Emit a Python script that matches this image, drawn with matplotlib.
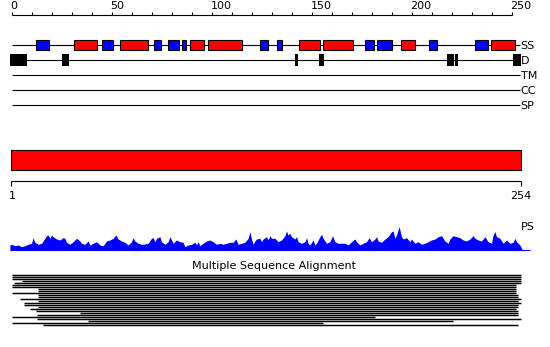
import matplotlib
matplotlib.use("Agg")
import matplotlib.pyplot as plt
from matplotlib.patches import Rectangle

seq_len = 254

# secondary structure: (start, end, kind)  H = helix (red), E = strand (blue)
ss_start = [12.2, 31, 45, 54, 71, 78.3, 85, 89.3, 98.3, 124, 132.5, 143.8, 155.8,
            176.8, 182.7, 194.8, 208.8, 231.8, 239.7]
ss_end = [18.5, 42.5, 50.5, 68.3, 74.5, 83.5, 87.3, 96.3, 115.3, 128, 135, 154, 170.8,
          181, 190, 201.8, 212.8, 238, 251.8]
ss_kind = ["E", "H", "E", "H", "E", "E", "E", "H", "H", "E", "E", "H", "H",
           "E", "E", "H", "E", "E", "H"]

# disorder segments
dis_start = [-0.7, 25.2, 141.7, 153.7, 217.5, 221.5, 250.7]
dis_end = [7.7, 28.7, 143, 156, 221, 223.2, 254.5]

# profile (PS) heights along the sequence
ps_pos = [-0.8, 0, 1.7, 3.3, 5, 6.7, 8.3, 10, 10.8, 11.7, 13.3, 15, 16.7, 17.5, 18.3, 19.2,
          20, 20.8, 22.5, 24.2, 25.8, 26.7, 27.5, 29.2, 30.8, 32.5, 34.2, 35, 36.7, 38.3,
          39.2, 40.8, 42.5, 44.2, 45.8, 47.5, 49.2, 50.8, 52.2, 53.3, 55, 56.7, 58.3, 60,
          60.8, 61.7, 63.3, 65, 66.7, 68.3, 70, 70.8, 71.7, 72.5, 74.2, 75, 76.7, 78.3,
          79.2, 80, 80.8, 82.5, 84.2, 85.8, 86.7, 88.3, 90, 91.7, 92.5, 93.3, 94.2, 95.8,
          97.5, 99.2, 100.8, 102.5, 104.2, 105.8, 107.5, 109.2, 110.8, 112.2, 113.3, 115,
          116.7, 118.3, 119.2, 120, 120.8, 121.7, 122.5, 124.2, 125, 125.8, 127.5, 128.3,
          129.2, 130, 131.7, 133.3, 135, 136.7, 137.5, 138.3, 139.2, 140, 141.7, 142.5,
          143.3, 145, 146.7, 147.5, 148.3, 149.2, 150.8, 151.7, 152.5, 154.2, 155, 155.8,
          157.5, 159.2, 160.5, 161.7, 163.3, 165, 166.7, 168.3, 170, 171.7, 172.5, 174.2,
          175.8, 177.5, 178.8, 180, 181.7, 182.5, 183.3, 185, 186.7, 188.3, 190, 190.8,
          191.7, 192.5, 193.8, 195, 195.8, 197.5, 199.2, 200, 201.7, 203.3, 205, 206.7,
          208.3, 210, 211.7, 213.3, 215, 216.7, 218.3, 219.2, 220.8, 222.5, 224.2, 225.8,
          227.5, 229.2, 230.8, 231.7, 233.3, 235, 236.7, 238.3, 240, 240.8, 241.7, 242.5,
          244.2, 245.8, 247.5, 249.2, 250.8, 251.7, 252.5, 254.2, 255.5]
ps_val = [5, 5.7, 4.3, 5, 3.3, 4.3, 5.7, 6.7, 12.3, 7.7, 5.7, 6.7, 11.7, 14.3, 15, 11.7,
          15, 13.3, 11, 10, 12.3, 11.7, 7.7, 5.7, 8.3, 11.7, 9, 6.7, 5.7, 9,
          5, 6.7, 8.3, 5, 4.3, 9, 10, 11.7, 15, 11, 9, 7.7, 5, 8.3,
          12.3, 9, 6.7, 5.7, 6, 6.7, 11.7, 12.3, 8.3, 11.7, 13.3, 8.3, 5.7, 8.3,
          13.3, 10, 6.7, 10, 8.3, 7.7, 3.3, 5, 5.7, 7.7, 5, 8.3, 4.3, 6.7,
          9, 10, 8.3, 5.7, 6.7, 5.7, 6.7, 7.7, 7.7, 11, 5.7, 6.7,
          7.7, 11.7, 18.3, 11, 5.7, 9, 11, 11.7, 8.3, 11, 13.3, 10,
          14.3, 11.7, 11.7, 8.3, 10, 14.3, 19, 15, 16.7, 13.3, 11, 13.3,
          8.3, 6.7, 8.3, 12.3, 6.7, 5, 10, 5, 6.7, 13.3, 15.7, 11.7,
          6.7, 8.3, 14.3, 8.3, 6.7, 6.7, 6.7, 5, 8.3, 11, 8.3, 5,
          6.7, 8.3, 12.3, 8.3, 11, 13.3, 9, 7.7, 11, 13.3, 18.3, 19,
          11.7, 15, 23.3, 13.3, 11, 12.3, 8.3, 11, 6.7, 8.3, 5.7, 6.7,
          8.3, 10, 11, 13.3, 14.3, 9, 6.7, 11, 14.3, 13.3, 12.3, 10,
          9, 11, 14.3, 11.7, 10, 9, 13.3, 8.3, 6.7, 15, 18.3, 13.3,
          11.7, 6.7, 10, 6.7, 7.7, 11.7, 8.3, 5, 0]

# multiple sequence alignment rows (aligned span of each sequence)
msa_start = [0, 0, 0, 5, 1, 0, 0, 13, 13, 0, 13, 13, 4, 13, 6, 6, 13, 9, 12, 34,
             12.5, 0, 12.5, 38, 0, 15.5]
msa_end = [254.5, 254.5, 254.5, 254.5, 254.5, 252, 252, 252, 252, 252, 253, 253, 254.5,
           253, 254.5, 253, 253, 252, 253, 253, 253, 181.5, 254.5, 220.5, 155.5, 253]

track_labels = ["SS", "D", "TM", "CC", "SP"]
ss_colors = {"H": "#ff0000", "E": "#0000ff"}

fig = plt.figure(figsize=(5.5, 3.47), dpi=100)
ax = fig.add_axes([0, 0, 1, 1])
# 2 px per residue, residue 0 at x = 11.5 px; y in pixels from the top
ax.set_xlim(-11.5 / 2, (550 - 11.5) / 2)
ax.set_ylim(347, 0)
ax.axis("off")

fs = 8
lw = 0.8

# top ruler
ax.hlines(15, 0, 250, color="black", lw=lw)
for t in range(0, 251, 10):
    ax.vlines(t, 11.5, 15, color="black", lw=lw)
for t in range(0, 251, 50):
    ax.text(t - 0.5, 6, str(t), fontsize=fs, ha="left", va="center", color="black")

# feature tracks
track_y = [45, 60, 75, 90, 105]
for y, lab in zip(track_y, track_labels):
    ax.hlines(y, 0, seq_len, color="black", lw=lw)
    ax.text(seq_len + 0.6, y + 0.5, lab, fontsize=fs, ha="left", va="center")

box_h = 10.5
for s, e, k in zip(ss_start, ss_end, ss_kind):
    ax.add_patch(Rectangle((s, track_y[0] - box_h / 2), e - s, box_h,
                           facecolor=ss_colors[k], edgecolor="black", lw=lw, zorder=3))
for s, e in zip(dis_start, dis_end):
    ax.add_patch(Rectangle((s, track_y[1] - 5.6), e - s, 11.2,
                           facecolor="black", lw=0, zorder=3))

# domain bar and its scale
ax.add_patch(Rectangle((-0.5, 150), seq_len + 1, 20, facecolor="#ff0000",
                       edgecolor="black", lw=lw))
ax.hlines(180.5, -0.5, seq_len + 0.5, color="black", lw=lw)
for x, lab in [(-0.5, "1"), (seq_len + 0.5, str(seq_len))]:
    ax.vlines(x, 180.5, 185.5, color="black", lw=lw)
    ax.text(x + 0.8 if lab == "1" else x, 196, lab, fontsize=fs, ha="center", va="center")

# PS profile
base = 250
ax.fill_between(ps_pos, [base - v for v in ps_val], base, color="#0000ff", lw=0)
ax.hlines(base - 0.5, ps_pos[0], 259, color="#0000ff", lw=0.8)
ax.text(seq_len + 0.8, 226.5, "PS", fontsize=fs, ha="left", va="center")

# multiple sequence alignment
ax.text(131.3, 266, "Multiple Sequence Alignment", fontsize=fs, ha="center", va="center")
for i, (s, e) in enumerate(zip(msa_start, msa_end)):
    ax.hlines(274.7 + 2 * i, s, e, color="black", lw=1.05)

fig.savefig("out.png", dpi=100)
